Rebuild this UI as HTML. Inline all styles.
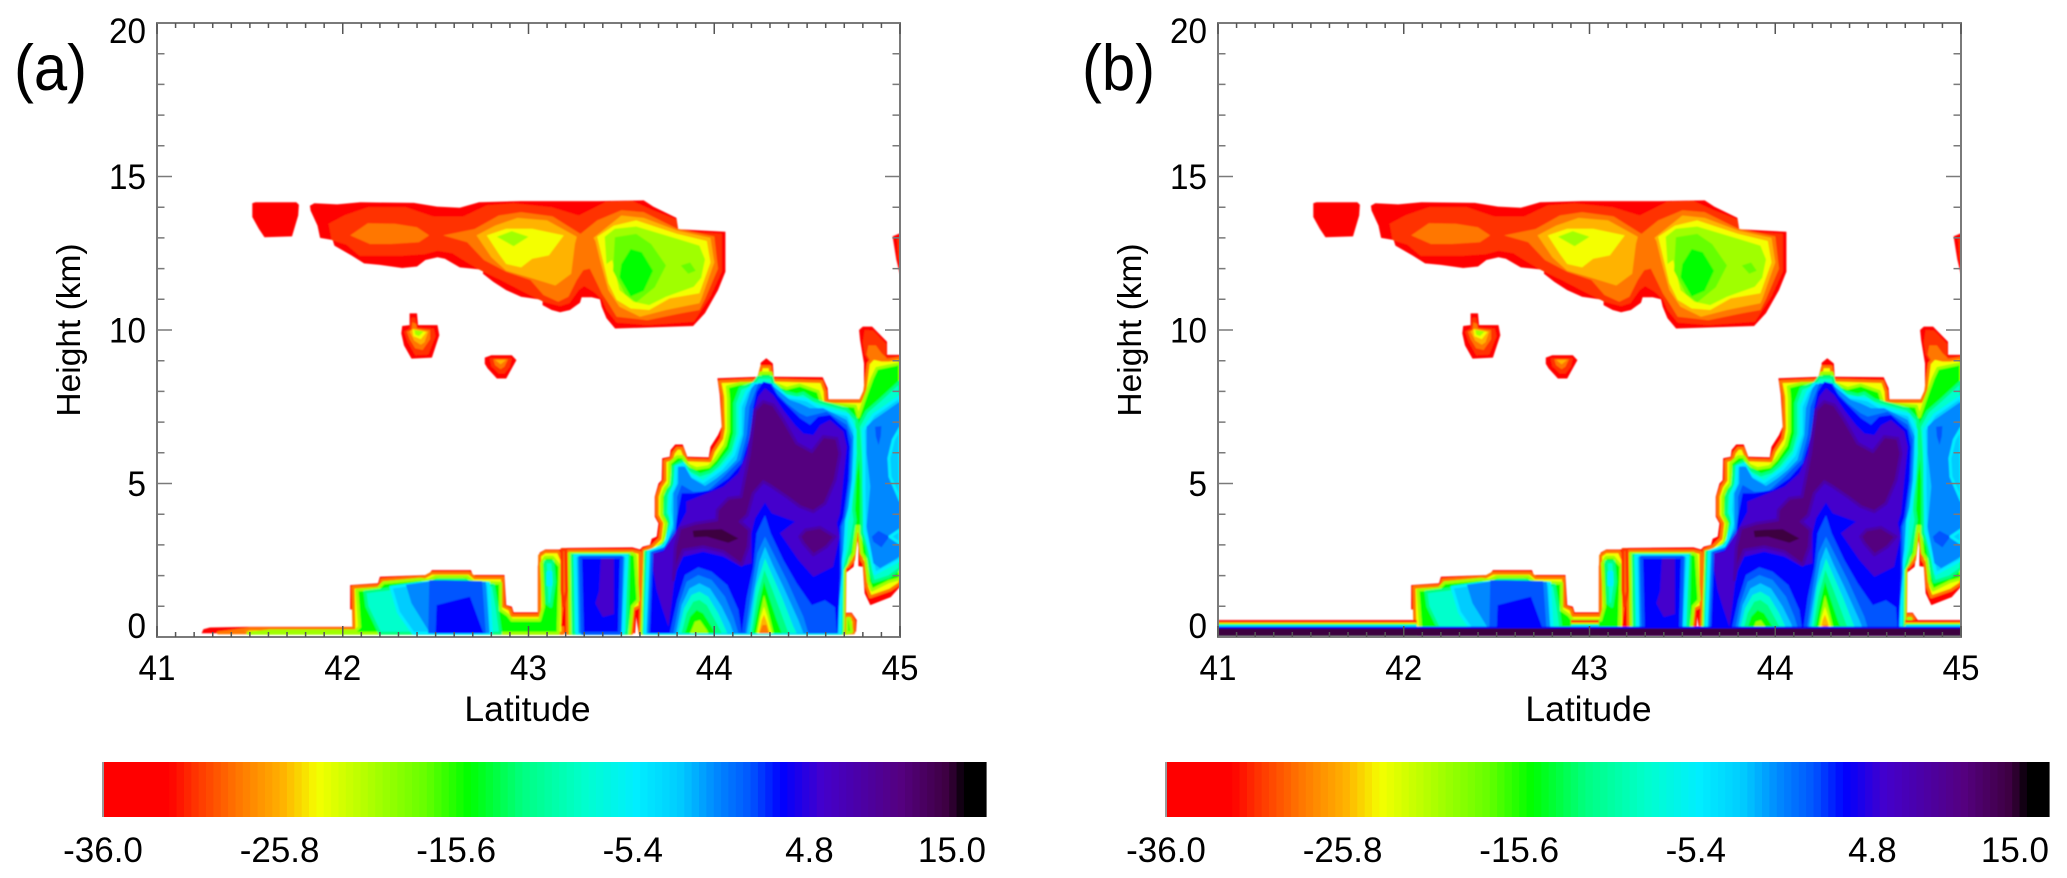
<!DOCTYPE html>
<html lang="en">
<head>
<meta charset="utf-8">
<title>Reflectivity cross-sections</title>
<style>
html,body{margin:0;padding:0;background:#fff;}
#chart{display:block;width:2067px;height:878px;font-family:"Liberation Sans",sans-serif;fill:#000;}
</style>
</head>
<body>
<svg id="chart" xmlns="http://www.w3.org/2000/svg" width="2067" height="878" viewBox="0 0 2067 878">
<defs><filter id="soften" x="-2%" y="-2%" width="104%" height="104%"><feGaussianBlur stdDeviation="0.7"/></filter></defs>
</svg>
<script>
// ---------- axis data ----------
const latTicks = [41, 42, 43, 44, 45];
const heightTicks = [0, 5, 10, 15, 20];
const colorbarLabels = ['-36.0', '-25.8', '-15.6', '-5.4', '4.8', '15.0'];
const colorbarValues = [-36, -25.8, -15.6, -5.4, 4.8, 15];

// ---------- colour scale (value → colour) ----------
const colormapValues = [-36, -32.4, -30.9, -28.4, -25.8, -23.8, -20.2, -17.6, -15.1, -12, -8.5, -5.4, -2.9, -0.8, 1.2, 3, 5.3, 7.4, 9.9, 12.6, 13.6, 15];
const colormapColors = ['#ff0000', '#ff0000', '#ff3300', '#ff7700', '#ffb300', '#f4ff00', '#a0ff00', '#66ff00', '#00ff00', '#00ff80', '#00ffcc', '#00eeff', '#00ccff', '#0088ff', '#0055ff', '#0000ff', '#4400cc', '#4b00a8', '#55007f', '#3d0040', '#000000', '#000000'];
const levelValues = [-32.4, -30.9, -28.4, -25.8, -23.8, -20.2, -17.6, -15.1, -12, -8.5, -5.4, -2.9, -0.8, 1.2, 3, 5.3, 7.4, 9.9, 12.6, 13.6];

// ---------- contour polygons: [level index, edge level index or -1, [[lat, km], ...]] ----------
const upperCloudLayers = [
 [0,-1,[[41.513,13.68],[41.513,14.13],[41.53,14.16],[41.75,14.16],[41.764,14.08],[41.76,13.73],[41.744,13.4],[41.727,13.05],[41.579,13.02],[41.548,13.3]]],
 [0,-1,[[41.823,14.05],[41.847,14.13],[41.97,14.09],[42.095,14.16],[42.383,14.14],[42.507,14.02],[42.63,13.98],[42.734,14.16],[42.96,14.2],[43.373,14.2],[43.62,14.22],[43.672,14.02],[43.796,13.65],[43.806,13.28],[44.06,13.2],[44.06,11.9],[44.02,11.3],[43.95,10.55],[43.886,10.13],[43.466,10.05],[43.42,10.38],[43.394,10.76],[43.385,11.0],[43.34,11.07],[43.286,11.07],[43.277,10.89],[43.223,10.65],[43.17,10.58],[43.125,10.65],[43.076,10.81],[43.076,10.98],[42.96,11.08],[42.88,11.3],[42.81,11.57],[42.755,11.83],[42.755,11.96],[42.63,12.04],[42.55,12.32],[42.51,12.37],[42.445,12.28],[42.40,12.07],[42.32,12.02],[42.2,12.12],[42.115,12.17],[42.05,12.42],[41.955,12.75],[41.946,12.93],[41.878,13.0],[41.864,13.4],[41.827,13.89]]],
 [1,-1,[[41.924,13.46],[42.01,13.74],[42.135,14.0],[42.34,14.0],[42.485,13.7],[42.65,13.7],[42.775,14.06],[42.92,14.13],[43.125,14.0],[43.27,13.73],[43.415,14.17],[43.56,14.2],[43.67,13.9],[43.796,13.6],[43.806,13.22],[44.04,13.13],[44.04,11.9],[43.98,11.1],[43.89,10.27],[43.64,10.16],[43.475,10.24],[43.42,10.65],[43.395,11.0],[43.35,11.25],[43.3,11.43],[43.27,11.3],[43.22,10.87],[43.17,10.78],[43.08,10.92],[42.97,11.25],[42.85,11.63],[42.74,11.95],[42.67,12.2],[42.59,12.5],[42.51,12.58],[42.44,12.47],[42.32,12.42],[42.16,12.42],[42.09,12.42],[42.02,12.78],[41.94,12.93]]],
 [2,-1,[[42.04,13.08],[42.135,13.48],[42.28,13.46],[42.40,13.35],[42.465,13.08],[42.41,12.86],[42.26,12.8],[42.146,12.8]]],
 [2,-1,[[42.54,13.08],[42.71,13.29],[42.84,13.73],[42.96,13.84],[43.13,13.7],[43.28,13.13],[43.37,13.57],[43.5,13.9],[43.62,13.84],[43.8,13.3],[44.0,13.05],[44.02,12.0],[43.95,11.0],[43.92,10.65],[43.82,10.54],[43.64,10.32],[43.475,10.43],[43.43,10.87],[43.395,11.19],[43.36,11.63],[43.33,12.0],[43.295,11.95],[43.26,11.63],[43.215,11.08],[43.16,10.92],[43.08,11.14],[43.01,11.63],[42.88,11.9],[42.76,12.28],[42.67,12.86]]],
 [3,-1,[[42.72,13.08],[42.82,13.4],[42.94,13.65],[43.1,13.57],[43.26,13.04],[43.25,12.8],[43.23,11.83],[43.145,11.45],[43.0,11.72],[42.88,11.93],[42.8,12.37]]],
 [3,-1,[[43.35,13.0],[43.5,13.73],[43.62,13.65],[43.8,13.24],[43.98,13.0],[44.0,12.2],[43.93,11.0],[43.92,10.87],[43.74,10.65],[43.6,10.43],[43.49,10.76],[43.43,11.3],[43.385,12.28],[43.36,12.9]]],
 [4,-1,[[42.775,13.08],[42.88,13.3],[43.02,13.3],[43.19,13.08],[43.11,12.43],[43.02,12.32],[42.96,12.04],[42.88,12.15],[42.84,12.48]]],
 [4,-1,[[43.37,13.04],[43.46,13.4],[43.58,13.57],[43.8,13.13],[43.96,12.9],[43.98,12.2],[43.92,11.2],[43.76,11.03],[43.65,10.65],[43.55,10.7],[43.475,10.98],[43.43,11.52],[43.4,12.28]]],
 [5,-1,[[42.83,13.04],[42.91,13.22],[43.0,13.04],[42.92,12.73]]],
 [5,-1,[[43.41,13.04],[43.465,13.3],[43.58,13.37],[43.8,12.97],[43.92,12.75],[43.95,12.3],[43.93,11.7],[43.89,11.41],[43.74,11.08],[43.65,10.81],[43.565,10.92],[43.49,11.3],[43.45,12.28],[43.42,12.15]]],
 [6,-1,[[43.465,13.02],[43.58,13.13],[43.66,12.8],[43.74,12.1],[43.68,11.39],[43.58,10.9],[43.52,11.17],[43.455,11.93]]],
 [6,-1,[[43.82,12.1],[43.87,12.2],[43.9,11.93],[43.86,11.83]]],
 [7,-1,[[43.55,12.64],[43.61,12.53],[43.67,11.93],[43.62,11.28],[43.55,11.09],[43.49,11.72],[43.5,12.15]]],
 [0,-1,[[42.36,10.54],[42.4,10.54],[42.405,10.16],[42.51,10.16],[42.52,9.83],[42.48,9.1],[42.37,9.07],[42.33,9.5],[42.315,9.89],[42.32,10.13],[42.36,10.16]]],
 [1,-1,[[42.37,10.4],[42.39,10.4],[42.4,10.08],[42.49,10.05],[42.5,9.8],[42.46,9.2],[42.39,9.18],[42.35,9.6],[42.33,9.95],[42.36,10.05]]],
 [2,-1,[[42.375,10.25],[42.395,10.2],[42.4,10.05],[42.47,10.0],[42.47,9.7],[42.43,9.35],[42.39,9.4],[42.36,9.7],[42.345,9.95],[42.37,10.0]]],
 [3,-1,[[42.38,10.05],[42.46,9.95],[42.44,9.6],[42.42,9.52],[42.385,9.65],[42.36,9.95]]],
 [4,-1,[[42.375,10.02],[42.45,9.93],[42.42,9.7],[42.38,9.8]]],
 [5,-1,[[42.385,10.0],[42.435,9.95],[42.41,9.8],[42.39,9.85]]],
 [0,-1,[[42.765,9.1],[42.8,9.18],[42.91,9.18],[42.935,9.02],[42.91,8.75],[42.88,8.42],[42.83,8.42],[42.78,8.75],[42.765,8.9]]],
 [1,-1,[[42.79,9.08],[42.91,9.08],[42.9,8.8],[42.87,8.58],[42.84,8.58],[42.8,8.82]]],
 [2,-1,[[42.81,9.05],[42.89,9.05],[42.87,8.8],[42.85,8.72],[42.82,8.85]]],
 [3,-1,[[42.82,9.03],[42.88,9.03],[42.85,8.88]]],
 [0,-1,[[44.96,13.05],[45,13.15],[45,11.8],[44.98,12.3]]],
 [1,-1,[[44.985,12.95],[45,13.0],[45,12.1],[44.99,12.4]]]
];

const lowerCloudOutline = [
 [0,-1,[[41.24,.12],[41.25,.25],[41.285,.31],[41.48,.33],[42.07,.33],[42.07,.88],[42.04,.9],[42.04,1.69],[42.19,1.75],[42.2,1.96],[42.46,2.02],[42.48,2.18],[42.69,2.18],[42.70,2.02],[42.87,2.02],[42.88,1.04],[42.91,.99],[42.92,.8],[43.05,.8],[43.05,2.3],[43.06,2.75],[43.09,2.85],[43.17,2.85],[43.2,2.9],[43.56,2.92],[43.6,2.85],[43.614,2.94],[43.654,3.0],[43.663,3.2],[43.69,3.27],[43.7,3.7],[43.68,3.92],[43.68,4.57],[43.7,5.0],[43.717,5.11],[43.72,5.82],[43.76,5.87],[43.765,6.09],[43.79,6.27],[43.83,6.27],[43.855,5.87],[43.97,5.85],[43.98,6.2],[44.02,6.58],[44.04,6.85],[44.03,7.88],[44.017,8.43],[44.246,8.48],[44.25,8.93],[44.28,9.08],[44.315,8.91],[44.32,8.48],[44.584,8.46],[44.61,8.1],[44.614,7.74],[44.80,7.74],[44.806,8.1],[44.806,8.91],[44.785,9.67],[44.78,10.0],[44.8,10.11],[44.85,10.11],[44.93,9.62],[44.93,9.19],[45,9.19],[45,1.64],[44.95,1.3],[44.84,1.04],[44.81,1.42],[44.8,2.29],[44.776,2.31],[44.776,3.38],[44.75,2.29],[44.704,2.07],[44.7,.12],[43.593,.12],[43.58,.66],[43.574,.12]]],
 [0,-1,[[44.704,.79],[44.74,.79],[44.767,.55],[44.763,.17],[44.704,.12]]],
 [4,2,[[44.712,.7],[44.735,.7],[44.752,.5],[44.75,.14],[44.712,.12]]],
 [7,5,[[44.713,.6],[44.73,.6],[44.74,.17],[44.713,.12]]],
 [1,-1,[[44.81,10.0],[44.855,9.98],[44.925,9.55],[44.925,9.13],[45,9.13],[45,9.05],[44.84,8.9],[44.81,9.2],[44.8,9.6]]],
 [2,-1,[[44.83,9.5],[44.87,9.5],[44.9,9.25],[44.93,9.08],[44.84,9.0],[44.82,9.2]]]
];

const shallowBlockLayers = [
 [4,2,[[41.33,.14],[41.5,.26],[42.06,.27],[42.055,1.62],[42.2,1.67],[42.21,1.86],[42.44,1.95],[42.48,2.08],[42.68,2.08],[42.71,1.93],[42.86,1.93],[42.865,1.0],[42.9,.9],[42.91,.7],[43.06,.7],[43.06,2.65],[43.09,2.78],[43.16,2.78],[43.18,2.5],[43.185,.12]]],
 [7,5,[[41.49,.12],[41.61,.2],[42.07,.2],[42.09,.33],[42.076,1.53],[42.19,1.58],[42.22,1.77],[42.417,1.88],[42.46,1.85],[42.5,1.96],[42.67,1.96],[42.7,1.8],[42.85,1.75],[42.85,.88],[42.89,.71],[42.91,.55],[43.06,.55],[43.08,.99],[43.07,2.4],[43.09,2.6],[43.13,2.6],[43.17,2.3],[43.16,.12]]],
 [9,8,[[42.2,.12],[42.13,1.0],[42.12,1.47],[42.23,1.55],[42.42,1.73],[42.46,1.69],[42.51,1.85],[42.65,1.85],[42.74,1.69],[42.81,1.69],[42.83,.99],[42.85,.12]]],
 [9,8,[[43.09,2.45],[43.13,2.45],[43.14,1.8],[43.12,1.0],[43.1,1.1]]],
 [11,10,[[43.105,2.1],[43.12,2.1],[43.12,1.7],[43.105,1.7]]],
 [11,10,[[42.26,1.62],[42.3,.8],[42.38,.12],[42.8,.12],[42.785,1.75],[42.48,1.8]]],
 [12,-1,[[42.34,1.7],[42.37,1.1],[42.47,.12],[42.79,.12],[42.77,1.8],[42.48,1.82]]],
 [13,-1,[[42.466,1.85],[42.55,1.85],[42.75,1.82],[42.77,.12],[42.46,.12]]],
 [14,-1,[[42.5,.12],[42.505,1.04],[42.65,1.26],[42.685,1.31],[42.757,.12]]],
 [4,2,[[43.21,.12],[43.205,2.8],[43.56,2.8],[43.6,2.75],[43.6,1.0],[43.565,.9],[43.555,.12]]],
 [7,5,[[43.225,.12],[43.22,2.72],[43.56,2.72],[43.575,2.65],[43.59,1.2],[43.56,1.0],[43.545,.12]]],
 [9,8,[[43.24,.12],[43.235,2.67],[43.54,2.67],[43.53,.12]]],
 [11,10,[[43.26,.12],[43.25,2.65],[43.53,2.65],[43.51,.12]]],
 [12,-1,[[43.27,.12],[43.265,2.63],[43.515,2.63],[43.5,.12]]],
 [14,13,[[43.29,.12],[43.28,2.6],[43.5,2.6],[43.49,.12]]],
 [15,-1,[[43.39,2.55],[43.38,1.5],[43.36,1.1],[43.4,.65],[43.46,.75],[43.46,2.55]]],
 [2,1,[[43.18,2.85],[43.2,2.85],[43.205,1.5],[43.19,1.0],[43.18,1.5]]],
 [0,-1,[[43.175,.35],[43.19,1.05],[43.195,.9],[43.2,.35]]]
];

const deepCoreLayers = [
 [4,2,[[43.6,.12],[43.618,2.83],[43.663,2.94],[43.708,3.21],[43.717,3.7],[43.693,3.97],[43.693,4.57],[43.711,4.9],[43.735,5.11],[43.735,5.74],[43.77,5.79],[43.78,6.0],[43.8,6.15],[43.824,6.15],[43.85,5.77],[43.977,5.74],[43.995,6.04],[44.04,6.47],[44.05,6.8],[44.045,7.83],[44.03,8.32],[44.237,8.37],[44.255,8.8],[44.3,8.8],[44.31,8.37],[44.578,8.32],[44.596,8.0],[44.6,7.67],[44.785,7.67],[44.81,8.0],[44.83,8.91],[44.857,9.08],[44.9,9.02],[44.94,9.02],[45,9.08],[45,1.75],[44.946,1.53],[44.84,1.31],[44.82,1.64],[44.806,2.4],[44.794,2.51],[44.776,3.27],[44.767,3.38],[44.75,2.51],[44.72,2.29],[44.704,2.24],[44.7,.12]]],
 [7,5,[[43.61,.12],[43.627,2.78],[43.68,2.83],[43.726,3.1],[43.74,3.7],[43.717,3.97],[43.717,4.57],[43.735,4.84],[43.758,5.0],[43.76,5.66],[43.8,5.87],[43.83,5.87],[43.86,5.6],[43.905,5.49],[43.97,5.55],[44.004,5.77],[44.058,6.25],[44.076,6.69],[44.076,7.77],[44.07,8.15],[44.14,8.26],[44.237,8.26],[44.25,8.6],[44.305,8.6],[44.318,8.26],[44.39,8.1],[44.46,8.21],[44.56,8.0],[44.58,7.61],[44.76,7.52],[44.776,7.18],[44.81,7.77],[44.85,8.43],[44.875,8.75],[45,8.91],[45,1.9],[44.94,1.8],[44.85,1.53],[44.83,1.8],[44.817,2.51],[44.794,2.73],[44.78,3.6],[44.767,3.6],[44.75,2.73],[44.713,2.34],[44.7,2.24],[44.695,.12]]],
 [9,8,[[43.62,.12],[43.632,2.78],[43.7,2.83],[43.744,3.16],[43.76,3.76],[43.735,4.03],[43.74,4.63],[43.77,4.95],[43.78,5.55],[43.824,5.71],[43.87,5.44],[43.923,5.28],[43.977,5.38],[44.02,5.6],[44.085,6.09],[44.11,6.63],[44.11,7.61],[44.14,8.1],[44.21,8.26],[44.237,8.46],[44.31,8.46],[44.318,8.26],[44.37,7.99],[44.444,7.88],[44.48,7.94],[44.534,7.72],[44.713,7.42],[44.767,7.07],[44.776,5.98],[44.758,5.22],[44.75,4.14],[44.758,3.81],[44.73,2.83],[44.71,2.4],[44.69,2.18],[44.686,.12]]],
 [11,10,[[43.627,.12],[43.645,2.78],[43.735,2.99],[43.77,3.7],[43.76,4.14],[43.765,4.68],[43.79,5.0],[43.794,5.55],[43.833,5.64],[43.87,5.28],[43.94,5.06],[43.995,5.28],[44.04,5.49],[44.103,5.93],[44.14,6.63],[44.14,7.5],[44.175,7.99],[44.21,8.24],[44.318,8.21],[44.39,7.83],[44.46,7.77],[44.498,7.72],[44.56,7.5],[44.72,7.23],[44.758,6.74],[44.758,5.98],[44.75,5.11],[44.73,4.14],[44.713,3.76],[44.704,2.94],[44.686,2.18],[44.677,.12]]],
 [12,-1,[[43.636,.12],[43.654,2.78],[43.735,2.94],[43.78,3.54],[43.78,4.14],[43.78,4.68],[43.806,5.0],[43.806,5.55],[43.842,5.55],[43.878,5.17],[43.95,4.92],[44.013,5.17],[44.067,5.44],[44.12,5.77],[44.157,6.58],[44.165,7.45],[44.2,8.1],[44.22,8.24],[44.31,8.21],[44.354,7.99],[44.408,7.72],[44.46,7.61],[44.516,7.45],[44.587,7.45],[44.713,7.07],[44.75,6.53],[44.74,5.11],[44.722,4.24],[44.704,3.81],[44.695,2.83],[44.677,2.07],[44.668,.12]]],
 [13,-1,[[43.645,.12],[43.663,2.78],[43.726,2.89],[43.79,3.49],[43.8,4.03],[43.8,4.57],[43.824,4.95],[43.887,4.73],[43.96,4.73],[44.05,5.22],[44.14,5.77],[44.175,6.58],[44.19,7.5],[44.22,7.99],[44.237,8.26],[44.31,8.26],[44.336,7.94],[44.39,7.61],[44.46,7.29],[44.498,7.18],[44.534,7.23],[44.605,7.34],[44.713,6.91],[44.74,6.42],[44.73,5.11],[44.704,3.92],[44.686,3.59],[44.686,2.07],[44.66,.12]]],
 [14,-1,[[43.654,.12],[43.672,2.73],[43.726,2.83],[43.79,3.38],[43.8,3.92],[43.824,4.68],[43.887,4.68],[43.986,4.79],[44.076,5.17],[44.148,5.66],[44.193,6.58],[44.21,7.5],[44.228,7.99],[44.264,8.32],[44.3,8.26],[44.345,7.83],[44.408,7.45],[44.462,7.12],[44.516,6.91],[44.56,7.18],[44.623,7.23],[44.713,6.74],[44.73,6.2],[44.722,5.11],[44.695,3.92],[44.677,3.59],[44.677,2.07],[44.663,.12]]],
 [15,-1,[[43.672,2.73],[43.726,2.78],[43.8,3.49],[43.85,4.08],[43.85,4.41],[43.94,4.63],[44.05,4.9],[44.13,5.33],[44.175,5.98],[44.21,7.29],[44.237,7.83],[44.273,8.1],[44.318,7.88],[44.372,7.39],[44.435,6.9],[44.48,6.63],[44.534,6.58],[44.57,6.9],[44.623,7.07],[44.695,6.69],[44.713,6.2],[44.695,5.11],[44.677,4.03],[44.66,3.7],[44.674,3.27],[44.64,2.29],[44.534,1.96],[44.453,2.51],[44.354,3.38],[44.435,3.76],[44.31,4.03],[44.273,4.38],[44.22,3.87],[44.2,3.38],[44.2,2.4],[44.14,2.31],[44.05,2.62],[43.94,2.78],[43.833,2.62],[43.79,2.07],[43.77,1.1],[43.753,.34],[43.717,.99],[43.69,1.53],[43.672,2.18]]],
 [17,16,[[43.815,3.54],[43.896,3.7],[44.013,3.81],[44.017,4.14],[44.076,4.52],[44.144,4.57],[44.19,5.98],[44.22,7.39],[44.264,7.67],[44.318,7.56],[44.372,7.07],[44.444,6.31],[44.525,6.04],[44.587,6.53],[44.66,6.47],[44.677,5.98],[44.65,5.11],[44.596,4.35],[44.534,4.08],[44.46,4.25],[44.39,4.57],[44.31,4.9],[44.264,5.06],[44.21,4.68],[44.178,3.97],[44.14,3.76],[44.19,3.49],[44.183,2.94],[44.148,2.35],[44.05,2.78],[43.94,2.94],[43.833,2.83],[43.79,2.18],[43.78,1.86],[43.79,2.94]]],
 [17,16,[[44.46,3.27],[44.49,3.49],[44.57,3.57],[44.65,3.27],[44.605,2.94],[44.534,2.67],[44.48,3.05]]],
 [18,-1,[[43.884,3.46],[43.94,3.49],[44.04,3.51],[44.13,3.21],[44.076,3.07],[43.96,3.27],[43.89,3.25]]]
];

const lobeLayers = [
 [13,-1,[[43.76,.12],[43.8,1.2],[43.842,2.02],[43.914,2.27],[43.986,2.13],[44.07,1.69],[44.13,.88],[44.148,.12]]],
 [12,-1,[[43.78,.12],[43.812,1.1],[43.851,1.8],[43.914,2.02],[43.986,1.86],[44.058,1.31],[44.103,.66],[44.13,.12]]],
 [11,-1,[[43.794,.12],[43.824,1.04],[43.866,1.58],[43.92,1.75],[43.977,1.58],[44.04,.99],[44.085,.44],[44.103,.12]]],
 [9,-1,[[43.806,.12],[43.837,.93],[43.878,1.37],[43.92,1.48],[43.968,1.31],[44.022,.77],[44.07,.12]]],
 [8,-1,[[43.824,.12],[43.851,.77],[43.887,1.15],[43.92,1.21],[43.96,1.04],[44.004,.55],[44.04,.12]]],
 [7,-1,[[43.842,.12],[43.87,.66],[43.905,.88],[43.94,.77],[43.986,.33],[44.004,.12]]],
 [5,-1,[[43.87,.12],[43.896,.5],[43.923,.55],[43.96,.23],[43.968,.12]]],
 [13,-1,[[44.148,.12],[44.175,1.31],[44.21,2.29],[44.228,3.38],[44.273,3.97],[44.304,3.38],[44.372,2.51],[44.444,1.75],[44.525,1.04],[44.596,1.2],[44.65,.97],[44.66,.12]]],
 [12,-1,[[44.166,.12],[44.2,1.53],[44.232,2.73],[44.273,3.27],[44.318,2.73],[44.39,1.86],[44.48,.66],[44.507,.12]]],
 [11,-1,[[44.175,.12],[44.214,1.53],[44.243,2.45],[44.273,2.94],[44.315,2.35],[44.372,1.64],[44.453,.55],[44.48,.12]]],
 [9,-1,[[44.19,.12],[44.225,1.64],[44.273,2.56],[44.315,1.97],[44.363,1.31],[44.426,.34],[44.444,.12]]],
 [8,-1,[[44.2,.12],[44.232,1.31],[44.27,2.18],[44.31,1.59],[44.354,.88],[44.4,.12]]],
 [7,-1,[[44.21,.12],[44.237,.99],[44.268,1.8],[44.3,1.2],[44.336,.55],[44.363,.12]]],
 [5,-1,[[44.225,.12],[44.246,.77],[44.268,1.37],[44.29,.88],[44.32,.12]]],
 [4,-1,[[44.232,.12],[44.25,.66],[44.268,.99],[44.286,.66],[44.31,.12]]],
 [3,-1,[[44.24,.12],[44.255,.55],[44.268,.72],[44.282,.5],[44.3,.12]]],
 [2,-1,[[44.243,.12],[44.26,.39],[44.28,.39],[44.293,.12]]]
];

const eastCellLayers = [
 [9,8,[[44.776,6.85],[44.82,7.34],[44.893,7.72],[45,8.32],[45,2.23],[44.94,1.96],[44.857,1.8],[44.84,2.18],[44.82,2.94],[44.794,3.38],[44.794,5.11],[44.785,5.98]]],
 [11,10,[[44.803,6.74],[44.857,7.23],[45,7.83],[45,2.51],[44.866,2.07],[44.84,2.73],[44.81,3.48],[44.806,4.9],[44.806,5.98]]],
 [12,-1,[[44.82,6.85],[44.857,7.07],[45,7.67],[45,2.62],[44.893,2.24],[44.857,2.4],[44.82,3.6],[44.84,4.9],[44.82,5.98]]],
 [13,-1,[[44.866,6.85],[44.9,6.87],[44.896,6.53],[44.884,6.25],[44.87,6.53]]],
 [13,-1,[[44.848,3.27],[44.884,3.46],[44.943,3.27],[44.9,2.92],[44.857,3.1]]],
 [11,10,[[45,6.8],[44.964,6.42],[44.94,5.82],[44.946,5.22],[45,4.46]]],
 [11,10,[[45,3.49],[44.946,3.27],[45,3.05]]]
];

// panel (b) only: surface clutter strip
const surfaceClearSpans = [[41, 42.07], [42.9, 43.05], [44.7, 45]];
const surfaceFringeLevels = [0, 2, 4, 7, 10];
const surfaceFringeTops = [0.55, 0.49, 0.46, 0.43, 0.39];
const surfaceCoreLevels = [14, 18];
const surfaceCoreTops = [0.34, 0.28];
const surfaceBandBase = 0.03;

// ---------- layout constants ----------
const NS = 'http://www.w3.org/2000/svg';
const svg = document.getElementById('chart');
const plotTop = 23, plotBottom = 637, plotWidth = 743;

function mk(tag, attrs, parent) {
  const el = document.createElementNS(NS, tag);
  for (const k in attrs) el.setAttribute(k, attrs[k]);
  parent.appendChild(el);
  return el;
}
function hex(c) { return [1, 3, 5].map(i => parseInt(c.substr(i, 2), 16)); }
function colorFor(v) {
  if (v <= colormapValues[0]) return colormapColors[0];
  for (let i = 1; i < colormapValues.length; i++) {
    if (v <= colormapValues[i]) {
      const t = (v - colormapValues[i - 1]) / (colormapValues[i] - colormapValues[i - 1]);
      const a = hex(colormapColors[i - 1]), b = hex(colormapColors[i]);
      return 'rgb(' + a.map((x, j) => Math.round(x + (b[j] - x) * t)).join(',') + ')';
    }
  }
  return colormapColors[colormapColors.length - 1];
}
function yScale(km) { return plotBottom - km * (plotBottom - plotTop) / 20; }

function drawLayers(g, layers, xScale, name) {
  layers.forEach(function (layer) {
    const pts = layer[2].map(p => xScale(p[0]).toFixed(1) + ',' + yScale(p[1]).toFixed(1)).join(' ');
    const attrs = { points: pts, fill: colorFor(levelValues[layer[0]]) };
    if (layer[1] >= 0) {
      attrs.stroke = colorFor(levelValues[layer[1]]);
      attrs['stroke-width'] = 3;
      attrs['stroke-linejoin'] = 'round';
    }
    const el = mk('polygon', attrs, g);
    
    
  });
}

function drawBand(g, xScale, left, right, lvl, top) {
  const band = mk('rect', {
    x: xScale(left), y: yScale(top), width: xScale(right) - xScale(left),
    height: yScale(surfaceBandBase) - yScale(top), fill: colorFor(levelValues[lvl])
  }, g);
  
  
}

function drawPanel(id, x0, letter, letterX, withBand) {
  const xScale = lat => x0 + (lat - 41) * plotWidth / 4;
  const panel = mk('g', {}, svg);
  
  

  const clip = mk('clipPath', { id: 'clip-' + id }, panel);
  mk('rect', { x: x0, y: plotTop, width: plotWidth, height: plotBottom - plotTop }, clip);

  const clipped = mk('g', { 'clip-path': 'url(#clip-' + id + ')' }, panel);
  const field = mk('g', { filter: 'url(#soften)' }, clipped);
  
  
  drawLayers(field, upperCloudLayers, xScale, 'upper-cloud-contour');
  drawLayers(field, lowerCloudOutline, xScale, 'lower-cloud-outline');
  drawLayers(field, shallowBlockLayers, xScale, 'shallow-cloud-contour');
  drawLayers(field, deepCoreLayers, xScale, 'deep-core-contour');
  drawLayers(field, lobeLayers, xScale, 'low-reflectivity-lobe');
  drawLayers(field, eastCellLayers, xScale, 'east-cell-contour');
  if (withBand) {
    surfaceClearSpans.forEach(function (span) {
      surfaceFringeLevels.forEach(function (lvl, i) {
        drawBand(field, xScale, span[0], span[1], lvl, surfaceFringeTops[i]);
      });
    });
    surfaceCoreLevels.forEach(function (lvl, i) {
      drawBand(field, xScale, 41, 45, lvl, surfaceCoreTops[i]);
    });
  }

  // frame
  const axisColor = '#7a7a7a';
  const frame = mk('rect', { x: x0, y: plotTop, width: plotWidth, height: plotBottom - plotTop, fill: 'none', stroke: axisColor, 'stroke-width': 2 }, panel);
  
  

  // x ticks
  for (let t = 0; t <= 40; t++) {
    const lat = 41 + t / 10;
    const major = t % 10 === 0;
    const len = major ? 11 : 5;
    const x = xScale(lat);
    const d = 'M' + x + ' ' + plotBottom + 'v' + (-len) + 'M' + x + ' ' + plotTop + 'v' + len;
    const tick = mk('path', { d: d, stroke: '#555', 'stroke-width': 1.5, fill: 'none' }, panel);
    
    
  }
  // y ticks
  for (let km = 0; km <= 20; km++) {
    const major = km % 5 === 0;
    const len = major ? 15 : 7.5;
    const y = yScale(km);
    const d = 'M' + x0 + ' ' + y + 'h' + len + 'M' + (x0 + plotWidth) + ' ' + y + 'h' + (-len);
    const tick = mk('path', { d: d, stroke: axisColor, 'stroke-width': 1.5, fill: 'none' }, panel);
    
    
  }
  // x tick labels
  latTicks.forEach(function (lat) {
    const t = mk('text', { transform: 'translate(' + xScale(lat) + ' 680) scale(0.95 1)', 'text-anchor': 'middle', 'font-size': 35 }, panel);
    t.textContent = String(lat);
    
    
  });
  // y tick labels (top and bottom labels are nudged inside, as in the figure)
  heightTicks.forEach(function (km) {
    let base = yScale(km) + 12.5;
    if (km === 20) base = plotTop + 20;
    if (km === 0) base = plotBottom + 1;
    const t = mk('text', { transform: 'translate(' + (x0 - 11) + ' ' + base + ') scale(0.95 1)', 'text-anchor': 'end', 'font-size': 35 }, panel);
    t.textContent = String(km);
    
    
  });
  // axis titles
  const xt = mk('text', { x: x0 + plotWidth / 2 - 1, y: 721, 'text-anchor': 'middle', 'font-size': 35.5 }, panel);
  xt.textContent = 'Latitude';
  
  
  const yt = mk('text', { transform: 'translate(' + (x0 - 77) + ' 330) rotate(-90)', 'text-anchor': 'middle', 'font-size': 33.5 }, panel);
  yt.textContent = 'Height (km)';
  
  
  // panel letter
  const pl = mk('text', { transform: 'translate(' + letterX + ' 90) scale(0.92 1)', 'font-size': 65 }, panel);
  pl.textContent = letter;
  
  
}

function drawColorbar(id, left) {
  const barWidth = 883, barTop = 762, barHeight = 55, steps = 120;
  const vMin = colorbarValues[0], vMax = colorbarValues[colorbarValues.length - 1];
  const xOf = v => left + (v - vMin) / (vMax - vMin) * barWidth;
  const bar = mk('g', {}, svg);
  
  
  for (let i = 0; i < steps; i++) {
    const v = vMin + (vMax - vMin) * i / steps;
    const v2 = vMin + (vMax - vMin) * (i + 1) / steps;
    const r = mk('rect', { x: xOf(v), y: barTop, width: xOf(v2) - xOf(v) + 0.6, height: barHeight, fill: colorFor(v) }, bar);
    
    
  }
  const edge = mk('rect', { x: left - 1, y: barTop, width: 2, height: barHeight, fill: '#9a9a9a' }, bar);
  
  
  colorbarLabels.forEach(function (label, i) {
    const isLast = i === colorbarLabels.length - 1;
    const t = mk('text', { x: xOf(colorbarValues[i]), y: 862, 'text-anchor': isLast ? 'end' : 'middle', 'font-size': 35 }, bar);
    t.textContent = label;
    
    
  });
}

drawPanel('a', 157, '(a)', 14, false);
drawPanel('b', 1218, '(b)', 1082, true);
drawColorbar('a', 103);
drawColorbar('b', 1166);
</script>
</body>
</html>
